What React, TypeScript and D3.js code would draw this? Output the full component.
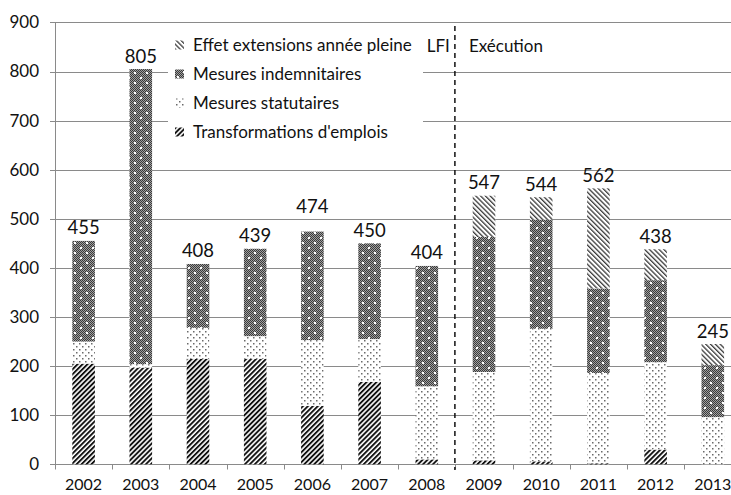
import * as d3 from "d3";

const years = ["2002", "2003", "2004", "2005", "2006", "2007", "2008", "2009", "2010", "2011", "2012", "2013"];
const transformations = [205, 197, 215, 215, 119, 168, 10, 8, 6, 2, 30, 0];
const statutaires = [45, 7, 63, 46, 134, 87, 149, 180, 270, 184, 178, 96];
const indemnitaires = [205, 601, 130, 178, 221, 195, 245, 275, 222, 172, 167, 106];
const effet = [0, 0, 0, 0, 0, 0, 0, 84, 46, 204, 63, 43];
const totals = [455, 805, 408, 439, 474, 450, 404, 547, 544, 562, 438, 245];
const yTicks = [0, 100, 200, 300, 400, 500, 600, 700, 800, 900];

const keys = ["transformations", "statutaires", "indemnitaires", "effet"];
const legendItems = [
  { key: "effet", label: "Effet extensions année pleine" },
  { key: "indemnitaires", label: "Mesures indemnitaires" },
  { key: "statutaires", label: "Mesures statutaires" },
  { key: "transformations", label: "Transformations d'emplois" },
];

const W = 731;
const H = 495;
const FONT = "Lato, 'Open Sans', sans-serif";
const GRID = "#8a8a8a";

const fillFor = (key: string) =>
  key === "transformations" ? "url(#pTransf)" :
  key === "statutaires" ? "url(#pStat)" :
  key === "indemnitaires" ? "url(#pIndemn)" : "url(#pEffet)";

export default function App() {
  const x = d3
    .scaleBand<string>()
    .domain(years)
    .range([55, 55 + 57.2 * years.length])
    .paddingInner(0.605)
    .paddingOuter(0.3025);
  const y = d3.scaleLinear().domain([0, 900]).range([464.3, 22.4]);
  const py = (v: number) => Math.round(y(v)) + 0.5;

  const rows = years.map((year, i) => ({
    year,
    transformations: transformations[i],
    statutaires: statutaires[i],
    indemnitaires: indemnitaires[i],
    effet: effet[i],
  }));
  const series = d3.stack<any>().keys(keys)(rows);

  const step = x.step();
  const left = x.range()[0];
  const right = x.range()[1];
  // boundary between 2008 and 2009 (LFI / Exécution)
  const split = left + step * years.indexOf("2009") - 0.5;

  return (
    <svg width={W} height={H} style={{ position: "absolute", left: 0, top: 0, background: "#fff" }} fontFamily={FONT}>
      <defs>
        <pattern id="pTransf" patternUnits="userSpaceOnUse" width={3.5} height={3.5} patternTransform="rotate(45)">
          <rect width={3.5} height={3.5} fill="#fff" />
          <rect width={1.9} height={3.5} fill="#111" />
        </pattern>
        <pattern id="pEffet" patternUnits="userSpaceOnUse" width={3.4} height={3.4} patternTransform="rotate(-45)">
          <rect width={3.4} height={3.4} fill="#fff" />
          <rect width={1.3} height={3.4} fill="#3a3a3a" />
        </pattern>
        <pattern id="pStat" patternUnits="userSpaceOnUse" width={6} height={6}>
          <rect width={6} height={6} fill="#fff" />
          <rect x={1} y={1} width={1.5} height={1.5} fill="#6a6a6a" />
          <rect x={4} y={4} width={1.5} height={1.5} fill="#6a6a6a" />
        </pattern>
        <pattern id="pChecker" patternUnits="userSpaceOnUse" width={2} height={2}>
          <rect width={2} height={2} fill="#a0a0a0" />
          <rect width={1} height={1} fill="#3a3a3a" />
          <rect x={1} y={1} width={1} height={1} fill="#3a3a3a" />
        </pattern>
        <pattern id="pIndemn" patternUnits="userSpaceOnUse" width={12} height={10}>
          <rect width={12} height={10} fill="url(#pChecker)" />
          <rect x={2} y={2} width={2} height={2} fill="#fff" />
          <rect x={8} y={7} width={2} height={2} fill="#fff" />
        </pattern>
      </defs>

      {/* gridlines */}
      {yTicks.map((t) => (
        <line key={t} x1={left - 5} x2={right} y1={py(t)} y2={py(t)} stroke={GRID} strokeWidth={1} />
      ))}
      {/* y axis */}
      <line x1={left + 0.5} x2={left + 0.5} y1={py(900)} y2={py(0)} stroke={GRID} />
      {yTicks.map((t) => (
        <text key={t} x={39} y={y(t)} dy="0.35em" textAnchor="end" fontSize={17} fill="#111">
          {t}
        </text>
      ))}
      {/* x axis ticks */}
      {years.map((yr, i) => (
        <line
          key={yr}
          x1={Math.round(left + step * i) + 0.5}
          x2={Math.round(left + step * i) + 0.5}
          y1={py(0)}
          y2={py(0) + 5}
          stroke={GRID}
        />
      ))}
      {years.map((yr) => (
        <text key={yr} x={x(yr)! + x.bandwidth() / 2} y={490} textAnchor="middle" fontSize={16} fill="#111">
          {yr}
        </text>
      ))}

      {/* bars */}
      {series.map((s) => (
        <g key={s.key} fill={fillFor(s.key)}>
          {s.map((d: any) =>
            d[1] - d[0] > 0 ? (
              <rect
                key={d.data.year}
                x={x(d.data.year)}
                y={y(d[1])}
                width={x.bandwidth()}
                height={y(d[0]) - y(d[1])}
              />
            ) : null
          )}
        </g>
      ))}

      {/* totals */}
      {years.map((yr, i) => (
        <text
          key={yr}
          x={x(yr)! + x.bandwidth() / 2}
          y={y(totals[i]) - (yr === "2006" ? 19 : 6.5)}
          textAnchor="middle"
          fontSize={18.5}
          fill="#111"
        >
          {totals[i]}
        </text>
      ))}

      {/* legend */}
      <rect x={168} y={30} width={255} height={118} fill="#fff" />
      {legendItems.map((it, i) => (
        <g key={it.key} transform={`translate(175, ${45 + i * 29})`}>
          <rect x={0} y={-4.5} width={9} height={9} fill={fillFor(it.key)} />
          <text x={18} y={0} dy="0.35em" fontSize={17} fill="#111">
            {it.label}
          </text>
        </g>
      ))}

      {/* LFI / Exécution separator */}
      <line x1={split} x2={split} y1={26} y2={470} stroke="#111" strokeWidth={1.5} strokeDasharray="5,4" />
      <text x={split - 5} y={46} dy="0.35em" textAnchor="end" fontSize={17} fill="#111">
        LFI
      </text>
      <text x={split + 14} y={46} dy="0.35em" fontSize={17} fill="#111">
        Exécution
      </text>
    </svg>
  );
}
